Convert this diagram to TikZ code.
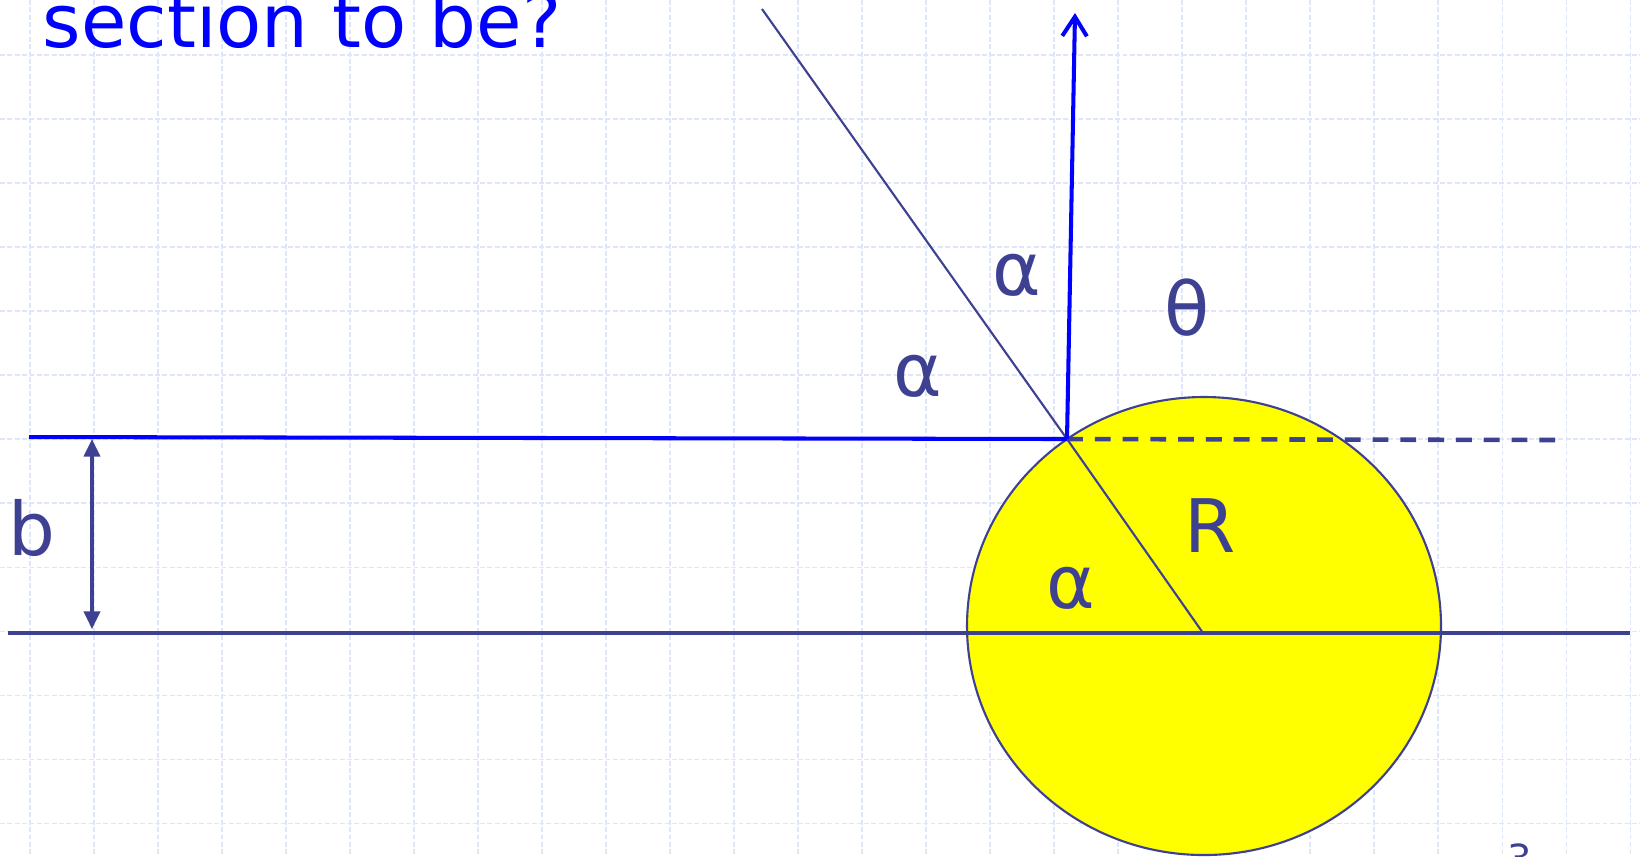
\documentclass[tikz,border=0pt]{standalone}
\usepackage{fontspec}
\setmainfont{DejaVu Sans}
\usetikzlibrary{arrows.meta}
\definecolor{ink}{RGB}{62,64,145}
\definecolor{gridblue}{RGB}{222,230,252}
\tikzset{
  gridline/.style={draw=gridblue, line width=0.3pt, dash pattern=on 1.4pt off 0.7pt},
  thinline/.style={draw=ink, line width=0.6pt},
  axis/.style={draw=ink, line width=1.15pt},
  ray/.style={draw=blue, line width=1.15pt},
  lbl/.style={text=ink, font=\fontsize{21}{25}\selectfont, anchor=base, inner sep=0pt},
  sphere/.style={draw=ink, line width=0.6pt, fill={rgb,255:red,255;green,255;blue,0}}
}

\begin{document}
\begin{tikzpicture}[x=0.01cm, y=-0.01cm]
  \useasboundingbox (0,0) rectangle (1640,856);
  \fill[white] (0,0) rectangle (1640,856);

  % grid
  \foreach \gx in {30,94,...,1630} \draw[gridline] (\gx,0) -- (\gx,856);
  \foreach \gy in {55,119,...,823} \draw[gridline] (0,\gy) -- (1640,\gy);

  % points
  \coordinate (src) at (762,9);
  \coordinate (hit) at (1067,439);
  \coordinate (mid) at (1203,633);
  \coordinate (up) at (1075,13);
  \coordinate (beam) at (29,437);
  \coordinate (dashend) at (1558,440);
  \coordinate (axl) at (8,633);
  \coordinate (axr) at (1630,633);
  \coordinate (btop) at (92,439);
  \coordinate (bbot) at (92,629);

  % target sphere
  \draw[sphere] (1204,626) ellipse [x radius=237, y radius=229];

  \draw[axis] (axl) -- (axr);
  \draw[thinline] (src) -- (hit) -- (mid);
  \draw[ray] (beam) -- (hit);
  \draw[ink, line width=1.3pt, dash pattern=on 4.5pt off 3.4pt] (hit) -- (dashend);
  \draw[ray, -{Straight Barb[length=5.5pt, width=7pt]}] (hit) -- (up);
  \draw[ink, line width=0.9pt, {Triangle[length=5pt, width=4.6pt]}-{Triangle[length=5pt, width=4.6pt]}] (btop) -- (bbot);

  % labels
  \node[anchor=base west, inner sep=0pt, text=blue, font=\fontsize{21}{25}\selectfont] (title) at (42,47) {section to be?};
  \node[lbl] (alphaA) at (1017,295) {α};
  \node[lbl] (alphaB) at (918,396) {α};
  \node[lbl] (alphaC) at (1071,608) {α};
  \node[lbl] (theta) at (1187,335) {θ};
  \node[lbl] (radius) at (1210,552) {R};
  \node[lbl] (impact) at (32,555) {b};
  \node[text=ink, font=\fontsize{11}{13}\selectfont, anchor=north, inner sep=0pt] (pagenum) at (1520,843) {3};
\end{tikzpicture}
\end{document}
